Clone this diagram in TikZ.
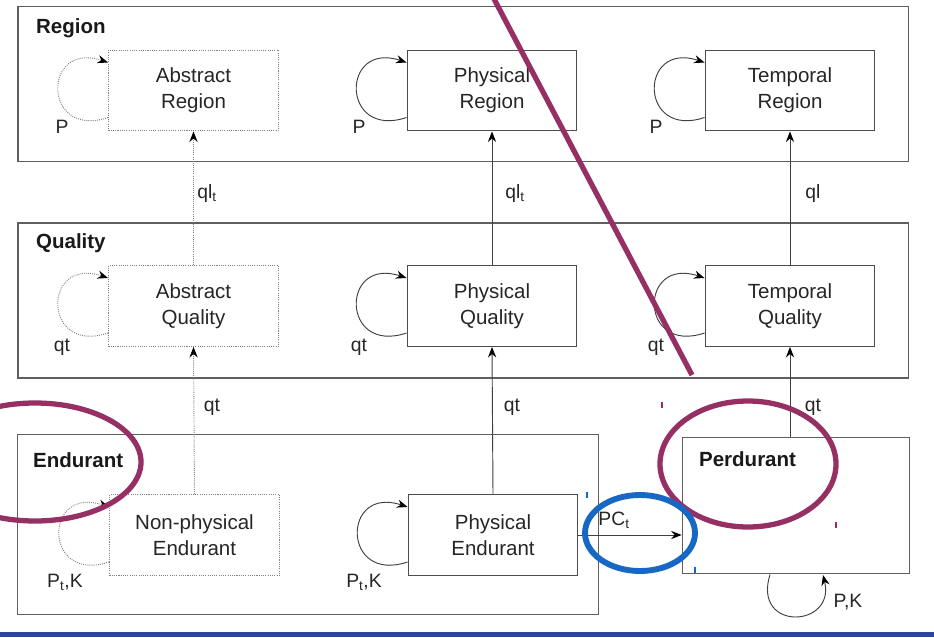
\documentclass[tikz,border=0pt]{standalone}
\usepackage{fontspec}
\setmainfont{Liberation Sans}
\usetikzlibrary{arrows.meta,calc}
\definecolor{ann}{RGB}{150,48,100}
\definecolor{annblue}{RGB}{22,104,196}
\definecolor{barblue}{RGB}{46,70,150}
\definecolor{frame}{RGB}{95,95,95}
\tikzset{
  container/.style={draw=frame,line width=1.2pt,minimum width=#1,inner sep=0pt},
  kbox/.style={draw=frame!80!black,line width=0.9pt,minimum width=145pt,minimum height=69pt,align=center,font=\fontsize{17.5}{22.5}\selectfont,text=black!85},
  abox/.style={kbox,draw=gray,densely dotted},
  title/.style={font=\fontsize{17.5}{20}\selectfont\bfseries,anchor=west,text=black!90},
  lbl/.style={font=\fontsize{16.5}{18}\selectfont,text=black!85},
  rel/.style={-{Stealth[length=9pt,width=7pt,inset=3pt,color=black,fill=black]},line width=0.8pt,draw=black!75},
  drel/.style={rel,draw=gray,densely dotted},
  annot/.style={line width=4.5pt,draw=ann},
}
\begin{document}
\begin{tikzpicture}[x=0.03cm,y=-0.03cm]
\useasboundingbox (0,0) rectangle (934,637);
\fill[white] (0,0) rectangle (934,637);
% containers
\node[container=760pt,minimum height=132pt] (regc) at (463,84) {};
\node[container=760pt,minimum height=132pt] (qualc) at (463,300.5) {};
\node[container=496pt,minimum height=154pt] (endc) at (308,524.5) {};
\node[container=194pt,minimum height=116pt] (perc) at (796,505.5) {};
\node[title] (regt) at (32,28) {Region};
\node[title] (qualt) at (32,243) {Quality};
\node[title] (endt) at (29,460) {Endurant};
\node[title] (pert) at (695,459) {Perdurant};
% boxes
\node[abox] (ar) at (193.5,90.5) {Abstract\\Region};
\node[kbox] (pr) at (492,90.5) {Physical\\Region};
\node[kbox] (tr) at (790,90.5) {Temporal\\Region};
\node[abox] (aq) at (193.5,306) {Abstract\\Quality};
\node[kbox] (pq) at (492,306) {Physical\\Quality};
\node[kbox] (tq) at (790,306) {Temporal\\Quality};
\node[abox] (ne) at (194.5,535) {Non-physical\\Endurant};
\node[kbox] (pe) at (493,535) {Physical\\Endurant};
% vertical relations
\draw[drel] (aq.north) -- (ar.south);
\draw[rel] (pq.north) -- (pr.south);
\draw[rel] (tq.north) -- (tr.south);
\draw[drel] (ne.north) -- (aq.south);
\draw[rel] (pe.north) -- (pq.south);
\draw[rel] (perc.north -| tq.south) -- (tq.south);
\node[lbl] (l1) at (207,193) {ql\textsubscript{t}};
\node[lbl] (l2) at (515,193) {ql\textsubscript{t}};
\node[lbl] (l3) at (813,193) {ql};
\node[lbl] (l4) at (212,407) {qt};
\node[lbl] (l5) at (512,407) {qt};
\node[lbl] (l6) at (813,407) {qt};
% PC_t
\draw[rel] (pe.east) -- (perc.west |- pe.east);
\node[lbl] (l7) at (614,520) {PC\textsubscript{t}};
% self loops
\foreach \b/\s in {ar/drel,pr/rel,tr/rel,aq/drel,pq/rel,tq/rel,ne/drel,pe/rel}{
  \coordinate (s\b) at ($(\b.west)+(0,27)$);
  \coordinate (e\b) at ($(\b.west)+(0,-28)$);
  \draw[\s] (s\b) .. controls ($(s\b)+(-66,22)$) and ($(e\b)+(-66,-22)$) .. (e\b);
}
\node[lbl] (p1) at (62,127) {P};
\node[lbl] (p2) at (359,127) {P};
\node[lbl] (p3) at (656,127) {P};
\node[lbl] (q1) at (62,347) {qt};
\node[lbl] (q2) at (359,347) {qt};
\node[lbl] (q3) at (656,347) {qt};
\node[lbl] (k1) at (65,582) {P\textsubscript{t},K};
\node[lbl] (k2) at (364,582) {P\textsubscript{t},K};
% perdurant loop
\coordinate (ps) at (770,574.5);
\coordinate (pe2) at (823,575);
\draw[rel] (ps) .. controls (752,632) and (836,628) .. (pe2);
\node[lbl] (k3) at (848,602) {P,K};
% annotations
\draw[annot] (493,-3) -- (692,375);
\draw[annot] (35,462) ellipse [x radius=106,y radius=59];
\draw[annot] (748,464) ellipse [x radius=88,y radius=63];
\draw[line width=5pt,draw=annblue] (640,533) ellipse [x radius=55,y radius=38];
\draw[ann,line width=1.2pt] (662,402) -- (662,408);
\draw[ann,line width=1.2pt] (836,522) -- (836,528);
\draw[annblue,line width=1.2pt] (587,492) -- (587,498);
\draw[annblue,line width=1.2pt] (695,567) -- (695,573);
\fill[barblue] (0,632) rectangle (934,637);
\end{tikzpicture}
\end{document}
